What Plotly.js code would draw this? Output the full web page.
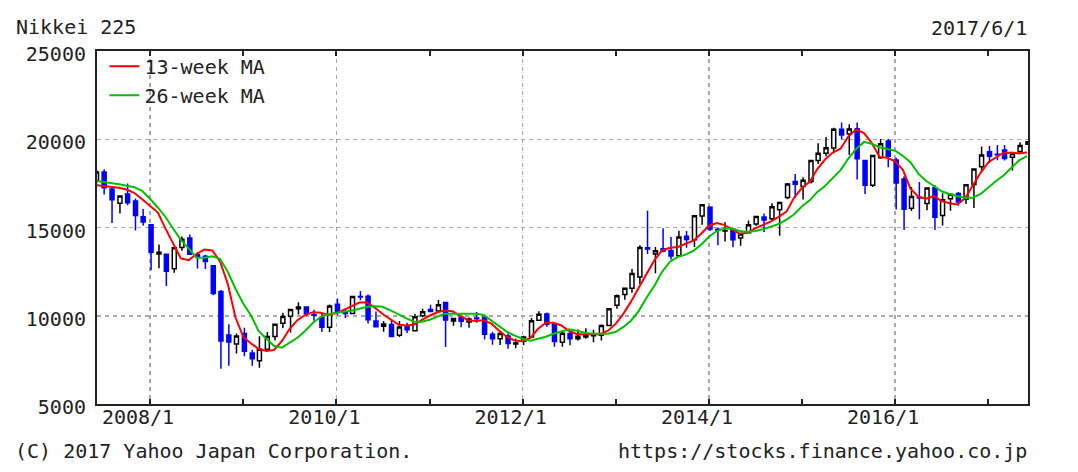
<!DOCTYPE html>
<html>
<head>
<meta charset="utf-8">
<script src="https://cdn.plot.ly/plotly-3.0.1.min.js"></script>
<style>
html,body{margin:0;padding:0;background:#fff;}
#chart{width:1078px;height:472px;}
</style>
</head>
<body>
<div id="chart"></div>
<script>
// Monthly candles (Nikkei 225), Jun 2007 - Jun 2017
const months = [
  '2007-06','2007-07','2007-08','2007-09','2007-10','2007-11','2007-12',
  '2008-01','2008-02','2008-03','2008-04','2008-05','2008-06','2008-07','2008-08','2008-09','2008-10','2008-11','2008-12',
  '2009-01','2009-02','2009-03','2009-04','2009-05','2009-06','2009-07','2009-08','2009-09','2009-10','2009-11','2009-12',
  '2010-01','2010-02','2010-03','2010-04','2010-05','2010-06','2010-07','2010-08','2010-09','2010-10','2010-11','2010-12',
  '2011-01','2011-02','2011-03','2011-04','2011-05','2011-06','2011-07','2011-08','2011-09','2011-10','2011-11','2011-12',
  '2012-01','2012-02','2012-03','2012-04','2012-05','2012-06','2012-07','2012-08','2012-09','2012-10','2012-11','2012-12',
  '2013-01','2013-02','2013-03','2013-04','2013-05','2013-06','2013-07','2013-08','2013-09','2013-10','2013-11','2013-12',
  '2014-01','2014-02','2014-03','2014-04','2014-05','2014-06','2014-07','2014-08','2014-09','2014-10','2014-11','2014-12',
  '2015-01','2015-02','2015-03','2015-04','2015-05','2015-06','2015-07','2015-08','2015-09','2015-10','2015-11','2015-12',
  '2016-01','2016-02','2016-03','2016-04','2016-05','2016-06','2016-07','2016-08','2016-09','2016-10','2016-11','2016-12',
  '2017-01','2017-02','2017-03','2017-04','2017-05','2017-06'
];
const openVals = [
  17660,18150,17180,16370,16900,16500,15608,
  15155,13497,13480,12656,13869,14400,13463,13376,12834,11368,8910,8397,
  8991,7894,7448,8109,8828,9570,9976,10400,10500,10050,9900,9350,
  10654,10200,10128,11090,11100,9700,9400,9500,8900,9400,9150,10000,
  10350,10274,10750,9700,9900,9650,9870,9900,8950,8700,8850,8400,
  8560,8800,9750,10100,9500,8500,9000,8700,8800,8870,8900,9450,
  10600,11200,11560,12200,13850,13500,13800,13700,13400,14500,14300,15650,
  16150,14900,14800,14900,14400,14700,15200,15600,15500,16000,16700,17600,
  17325,17600,18800,19200,19500,20560,20300,20600,18800,17400,18950,19900,
  18818,17750,16085,16719,16357,17251,15682,16635,16926,16599,17442,18435,
  19298,19148,19393,18983,19310,19722
];
const highVals = [
  18297,18295,17305,16785,17488,16637,16044,
  15156,14031,13480,13849,14489,14601,13603,13461,12834,11456,9521,9000,
  9325,8078,8843,9078,9522,10170,10356,10767,10500,10343,10100,10638,
  10982,10405,11097,11408,11200,10238,9700,9700,9700,9600,10100,10394,
  10620,10891,10754,9850,10017,9900,10207,10040,9100,9152,9000,8700,
  8860,9866,10255,10190,9535,9100,9100,9222,9288,9200,9500,10433,
  11200,11600,12650,14000,15942,13900,14953,14466,14817,14800,15727,16320,
  16200,15000,15300,14900,14700,15400,15650,15800,16375,16450,17520,18030,
  17850,18800,19778,20133,20655,20952,20850,20946,18800,19100,20012,20012,
  18951,17905,17291,17572,17251,17400,16938,16944,17014,17437,18308,19592,
  19615,19668,19668,19289,19831,19878
];
const lowVals = [
  17491,16870,15262,15795,16259,14837,15114,
  12573,12687,11691,12432,13688,13481,12671,12646,11160,6994,7162,7860,
  7705,7162,7054,8084,8600,9308,9050,10070,9979,9711,9081,9076,
  10036,9867,10106,10880,9560,9380,9091,8807,8796,9027,9124,9912,
  10216,10262,8227,9440,9351,9318,9600,8656,8359,8343,8135,8160,
  8349,8800,9700,9380,8240,8238,8328,8600,8700,8500,8600,9400,
  10400,10900,11300,11800,13500,12415,13600,13188,13400,13853,13900,15150,
  14800,13995,14200,13885,13964,14700,15100,14750,15400,14529,16600,16672,
  16593,17500,18600,19034,19200,19990,19115,17714,16901,17300,18900,18413,
  16017,14865,15941,15471,15975,14864,15107,15953,16230,16325,16111,18226,
  18650,18805,18800,18224,19225,19722
];
const closeVals = [
  18138,17248,16569,16785,16400,15680,15307,
  13592,13603,12525,13849,14338,13481,13376,13072,11259,8576,8512,8859,
  7994,7568,8109,8828,9522,9958,10356,10492,10133,10034,9345,10546,
  10198,10126,11089,11057,9768,9382,9537,8824,9369,9202,9937,10228,
  10237,10624,9755,9849,9693,9816,9833,8955,8700,8988,8434,8455,
  8802,9723,10083,9520,8542,9006,8695,8839,8870,8928,9446,10395,
  11138,11559,12397,13860,13775,13677,13668,13389,14455,14327,15662,16291,
  14915,14841,14828,14304,14632,15162,15621,15425,16174,16414,17460,17451,
  17674,18798,19207,19520,20563,20236,20585,18890,17388,19083,19747,19034,
  17518,16027,16759,16666,17235,15576,16569,16887,16450,17425,18308,19114,
  19041,19119,18909,19197,19651,19860
];
// Moving averages read at the start of each month
const ma13 = [
  17400,17350,17300,17250,17150,16950,16600,
  16250,15850,14950,14050,13250,13150,13500,13750,13700,13100,11800,9900,
  8800,8420,8130,8000,8060,8560,9250,9750,10050,10200,10170,10050,
  10150,10350,10550,10750,10750,10450,10100,9800,9500,9450,9500,9750,
  10000,10200,10300,10250,10000,9750,9700,9750,9550,9150,8800,8600,
  8550,8750,9250,9600,9600,9450,9150,8950,8950,8950,8950,9150,
  9550,10150,10800,11600,12400,13150,13700,13850,13900,14050,14250,14650,
  15100,15250,15150,14900,14650,14700,14950,15150,15350,15600,15900,16700,
  17250,17600,18300,18850,19250,19460,20150,20550,20350,19800,19000,18950,
  18750,18250,17200,16750,16630,16780,16500,16370,16300,16650,17400,18100,
  18700,19000,19240,19240,19200,19250
];
const ma26 = [
  17650,17590,17540,17450,17370,17280,17080,
  16630,16120,15610,14930,14300,13800,13290,13290,13370,13230,12490,11530,
  10680,10000,9150,8700,8300,8190,8470,8750,9150,9600,9940,10080,
  10170,10230,10280,10400,10510,10540,10510,10310,10060,9860,9660,9660,
  9770,9940,10110,10110,10110,10110,10110,10050,9720,9380,9090,8870,
  8700,8580,8700,8810,8980,9090,9235,9150,9040,8980,8980,8980,
  9090,9380,9720,10280,11020,11700,12490,13060,13340,13460,13680,14020,
  14480,14800,14950,14950,14800,14750,14800,14900,15050,15200,15450,15750,
  16200,16550,17000,17350,17800,18250,18900,19450,19850,19750,19550,19450,
  19350,19050,18700,18050,17650,17350,17050,16900,16770,16690,16690,16900,
  17300,17650,17950,18400,18800,19050
];
const xTickDates = ['2008-01-01','2010-01-01','2012-01-01','2014-01-01','2016-01-01'];
const xTickLabels = ['2008/1','2010/1','2012/1','2014/1','2016/1'];
const xMinorDates = ['2008-01-01','2009-01-01','2010-01-01','2011-01-01','2012-01-01','2013-01-01','2014-01-01','2015-01-01','2016-01-01','2017-01-01'];
const yTickVals = [5000,10000,15000,20000,25000];
const yTickLabels = ['5000','10000','15000','20000','25000'];
const seriesNames = ['13-week MA','26-week MA'];

const candleX = months.map(m => m + '-05');
const maX = months.map(m => m + '-01');

const FONT = 'DejaVu Sans Mono, monospace';
const TXT = '#222';
const FS = 20;

const traces = [
  {
    type:'candlestick', x:candleX, open:openVals, high:highVals, low:lowVals, close:closeVals,
    increasing:{line:{color:'#000000', width:1.5}, fillcolor:'#ffffff'},
    decreasing:{line:{color:'#0000ff', width:1.5}, fillcolor:'#0000ff'},
    whiskerwidth:0, showlegend:false, hoverinfo:'skip'
  },
  {type:'scatter', mode:'lines', name:seriesNames[0], x:maX, y:ma13, line:{color:'#ff0000', width:2}},
  {type:'scatter', mode:'lines', name:seriesNames[1], x:maX, y:ma26, line:{color:'#00c000', width:2}}
];

const px = v => (v - 97) / 931;
const py = v => (404 - v) / 353;

const layout = {
  width:1078, height:472,
  margin:{l:97, r:50, t:51, b:68, pad:0},
  paper_bgcolor:'#ffffff', plot_bgcolor:'#ffffff',
  font:{family:FONT, size:FS, color:TXT},
  boxgap:0.2,
  showlegend:true,
  legend:{x:0.008, y:1.012, xanchor:'left', yanchor:'top', bgcolor:'rgba(0,0,0,0)',
          font:{family:FONT, size:FS, color:TXT}, itemwidth:30, tracegroupgap:0},
  xaxis:{
    type:'date', range:['2007-06-07','2017-06-05'], rangeslider:{visible:false},
    tickmode:'array', tickvals:xTickDates, ticktext:xTickLabels,
    ticks:'inside', ticklen:5, tickwidth:2, tickcolor:'#222',
    showline:true, linecolor:'#222', linewidth:2, mirror:'ticks',
    showgrid:true, gridcolor:'#a8a8a8', griddash:'4px,4px', gridwidth:1.5,
    zeroline:false, ticklabelshift:-12, ticklabelstandoff:-6,
    tickfont:{family:FONT, size:FS, color:TXT},
    minor:{tickmode:'array', tickvals:xMinorDates, ticks:'inside', ticklen:5, tickwidth:2, tickcolor:'#222', showgrid:false},
    fixedrange:true
  },
  yaxis:{
    range:[5000,25000], tickmode:'array', tickvals:yTickVals, ticktext:yTickLabels,
    ticks:'', showline:true, linecolor:'#222', linewidth:2, mirror:true,
    showgrid:true, gridcolor:'#a8a8a8', griddash:'4px,4px', gridwidth:1.5,
    zeroline:false, ticklabelstandoff:5, ticklabelshift:3,
    tickfont:{family:FONT, size:FS, color:TXT}, fixedrange:true
  },
  annotations:[
    {text:'Nikkei 225', xref:'paper', yref:'paper', x:px(14), y:py(27), xanchor:'left', yanchor:'middle', showarrow:false, font:{family:FONT, size:FS, color:TXT}},
    {text:'2017/6/1', xref:'paper', yref:'paper', x:px(1029), y:py(28), xanchor:'right', yanchor:'middle', showarrow:false, font:{family:FONT, size:FS, color:TXT}},
    {text:'(C) 2017 Yahoo Japan Corporation.', xref:'paper', yref:'paper', x:px(13), y:py(451), xanchor:'left', yanchor:'middle', showarrow:false, font:{family:FONT, size:FS, color:TXT}},
    {text:'https://stocks.finance.yahoo.co.jp', xref:'paper', yref:'paper', x:px(1029), y:py(451), xanchor:'right', yanchor:'middle', showarrow:false, font:{family:FONT, size:FS, color:TXT}}
  ]
};

Plotly.newPlot('chart', traces, layout, {staticPlot:true, displayModeBar:false});
</script>
</body>
</html>
